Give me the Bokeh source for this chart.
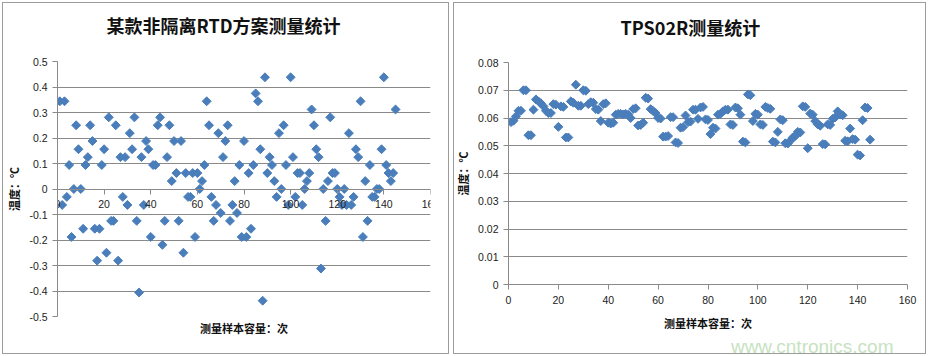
import numpy as np
from bokeh.plotting import figure
from bokeh.layouts import row, column
from bokeh.models import Range1d, FixedTicker, NumeralTickFormatter, Title
from bokeh.embed import file_html
from bokeh.resources import INLINE

# ---------------- data ----------------
SAMPLE_NO = list(range(1, 146))

RTD_DEV = [0.344, -0.0625, 0.344, -0.031, 0.094, -0.188, 0, 0.25, 0.156, 0,
           -0.156, 0.094, 0.125, 0.25, 0.188, -0.156, -0.281, -0.156, 0.094, 0.156,
           -0.25, 0.281, -0.125, -0.125, 0.25, -0.281, 0.125, -0.031, 0.125, -0.0625,
           0.219, 0.156, 0.281, -0.125, -0.406, 0.125, -0.0625, 0.188, 0.156, -0.188,
           0.094, 0.094, 0.25, 0.281, -0.219, -0.125, 0.125, 0.25, 0.031, 0.188,
           0.0625, -0.125, 0.188, -0.25, 0.0625, -0.031, -0.031, 0.0625, -0.188, 0.0625,
           0, 0.031, 0.094, 0.344, 0.25, -0.031, -0.125, -0.0625, 0.219, -0.094,
           0.125, 0.188, 0.25, -0.125, -0.0625, 0.031, -0.094, 0.094, -0.188, 0.188,
           -0.188, 0.0625, -0.156, 0.094, 0.375, 0.344, 0.156, -0.438, 0.438, 0.0625,
           0.125, 0.094, 0.031, -0.031, 0.219, 0, 0.25, 0.094, -0.0625, 0.438,
           0.125, -0.031, 0.0625, 0.0625, -0.0625, 0, 0.031, 0.0625, 0.312, 0.25,
           0.156, 0.125, -0.312, 0, -0.125, 0.031, 0.281, 0.0625, 0.0625, 0,
           -0.031, -0.0625, 0, -0.0625, 0.219, -0.0625, -0.031, 0.156, 0.125, 0.344,
           -0.188, 0.031, -0.125, 0.094, -0.031, -0.031, 0, 0, 0.156, 0.438,
           0.094, 0.0625, 0.031, 0.0625, 0.312]

TPS_DEV = [0.0585, 0.0590, 0.0606, 0.0626, 0.0626, 0.0700, 0.0700, 0.0538, 0.0538, 0.0630,
           0.0667, 0.0660, 0.0653, 0.0642, 0.0626, 0.0618, 0.0618, 0.0650, 0.0648, 0.0568,
           0.0642, 0.0640, 0.0530, 0.0530, 0.0660, 0.0655, 0.0720, 0.0644, 0.0644, 0.0700,
           0.0698, 0.0650, 0.0657, 0.0655, 0.0632, 0.0630, 0.0589, 0.0650, 0.0653, 0.0583,
           0.0580, 0.0583, 0.0612, 0.0615, 0.0615, 0.0613, 0.0615, 0.0612, 0.0600, 0.0632,
           0.0635, 0.0573, 0.0575, 0.0583, 0.0673, 0.0670, 0.0632, 0.0625, 0.0618, 0.0600,
           0.0598, 0.0533, 0.0533, 0.0535, 0.0603, 0.0603, 0.0512, 0.0510, 0.0565, 0.0567,
           0.0609, 0.0585, 0.0587, 0.0630, 0.0630, 0.0597, 0.0638, 0.0640, 0.0595, 0.0593,
           0.0542, 0.0565, 0.0562, 0.0612, 0.0615, 0.0624, 0.0630, 0.0630, 0.0577, 0.0575,
           0.0638, 0.0635, 0.0612, 0.0515, 0.0512, 0.0685, 0.0682, 0.0589, 0.0615, 0.0612,
           0.0577, 0.0575, 0.0640, 0.0636, 0.0633, 0.0515, 0.0512, 0.0550, 0.0595, 0.0592,
           0.0509, 0.0508, 0.0518, 0.0530, 0.0535, 0.0550, 0.0548, 0.0642, 0.0640, 0.0491,
           0.0616, 0.0612, 0.0589, 0.0577, 0.0572, 0.0506, 0.0505, 0.0577, 0.0575, 0.0597,
           0.0602, 0.0624, 0.0612, 0.0610, 0.0518, 0.0516, 0.0562, 0.0524, 0.0522, 0.0468,
           0.0465, 0.0592, 0.0638, 0.0636, 0.0522]

X_TICKS = [0, 20, 40, 60, 80, 100, 120, 140, 160]
Y1_TICKS = [-0.5, -0.4, -0.3, -0.2, -0.1, 0, 0.1, 0.2, 0.3, 0.4, 0.5]
Y2_TICKS = [0, 0.01, 0.02, 0.03, 0.04, 0.05, 0.06, 0.07, 0.08]

TITLE1 = "某款非隔离RTD方案测量统计"
TITLE2 = "TPS02R测量统计"
XLABEL = "测量样本容量：次"
YLABEL = "温度：℃"
WATERMARK = "www.cntronics.com"

BLUE = "#4a7ebb"
GRID = "#8a8a8a"
CJK = "Noto Sans CJK SC"
LAT = "Liberation Sans"
BOX = {"box-shadow": "inset 0 0 0 2px #ffffff, inset 0 0 0 3px #9c9c9c"}


def style(p, title_text, title_offset, gap):
    p.outline_line_color = None
    p.border_fill_color = None
    p.background_fill_color = "white"
    p.xgrid.grid_line_color = None
    p.ygrid.grid_line_color = GRID
    p.ygrid.grid_line_width = 1
    for ax in (p.xaxis[0], p.yaxis[0]):
        ax.axis_line_color = GRID
        ax.major_tick_line_color = GRID
        ax.major_tick_out = 5
        ax.major_tick_in = 0
        ax.minor_tick_line_color = None
        ax.major_label_text_font = LAT
        ax.major_label_text_font_size = "10.5px"
        ax.major_label_text_color = "#222222"
    p.xaxis.ticker = FixedTicker(ticks=X_TICKS)
    p.xaxis.major_label_standoff = 6
    p.yaxis.major_label_standoff = 5
    p.yaxis.axis_label = YLABEL
    p.yaxis.axis_label_text_font = CJK
    p.yaxis.axis_label_text_font_size = "11px"
    p.yaxis.axis_label_text_font_style = "bold"
    p.yaxis.axis_label_text_color = "#111111"
    p.yaxis.axis_label_standoff = 4
    # spacer between frame and title, then the title itself
    p.add_layout(Title(text=" ", text_font=LAT, text_font_size="10px", standoff=gap), "above")
    p.add_layout(Title(text=title_text, align="left", offset=title_offset, standoff=0,
                       text_font=CJK, text_font_size="18px", text_font_style="bold",
                       text_color="#111111"), "above")


# ---------------- left chart ----------------
p1 = figure(width=451, height=356, output_backend="svg", toolbar_location=None,
            x_range=Range1d(0, 160), y_range=Range1d(-0.5, 0.5),
            min_border_left=57, min_border_right=21, min_border_top=61, min_border_bottom=40,
            styles=BOX)
p1.title = None
style(p1, TITLE1, 49, 11)
p1.yaxis.ticker = FixedTicker(ticks=Y1_TICKS)
p1.yaxis.formatter = NumeralTickFormatter(format="0.[0]")
p1.xaxis.fixed_location = 0
p1.add_layout(Title(text=XLABEL, align="center", text_font=CJK, text_font_size="11px",
                    text_font_style="bold", text_color="#111111", standoff=2), "below")
p1.scatter(SAMPLE_NO, RTD_DEV, marker="square", angle=np.pi / 4, size=6.3,
           fill_color=BLUE, line_color=BLUE)

# ---------------- right chart ----------------
p2 = figure(width=477, height=356, output_backend="svg", toolbar_location=None,
            x_range=Range1d(0, 160), y_range=Range1d(0, 0.08),
            min_border_left=57, min_border_right=21, min_border_top=62, min_border_bottom=67,
            styles=BOX)
p2.title = None
style(p2, TITLE2, 112, 10)
p2.yaxis.ticker = FixedTicker(ticks=Y2_TICKS)
p2.yaxis.formatter = NumeralTickFormatter(format="0.[00]")
p2.xaxis.axis_label = XLABEL
p2.xaxis.axis_label_text_font = CJK
p2.xaxis.axis_label_text_font_size = "11px"
p2.xaxis.axis_label_text_font_style = "bold"
p2.xaxis.axis_label_text_color = "#111111"
p2.xaxis.axis_label_standoff = 8
p2.add_layout(Title(text=WATERMARK, align="right", offset=14, text_font=LAT,
                    text_font_size="19px", text_font_style="normal",
                    text_color="#c6e3bf", standoff=0), "below")
p2.scatter(SAMPLE_NO, TPS_DEV, marker="square", angle=np.pi / 4, size=6.3,
           fill_color=BLUE, line_color=BLUE)

layout = row(column(p1), column(p2), spacing=0)
open("out.html", "w").write(file_html(layout, INLINE))
